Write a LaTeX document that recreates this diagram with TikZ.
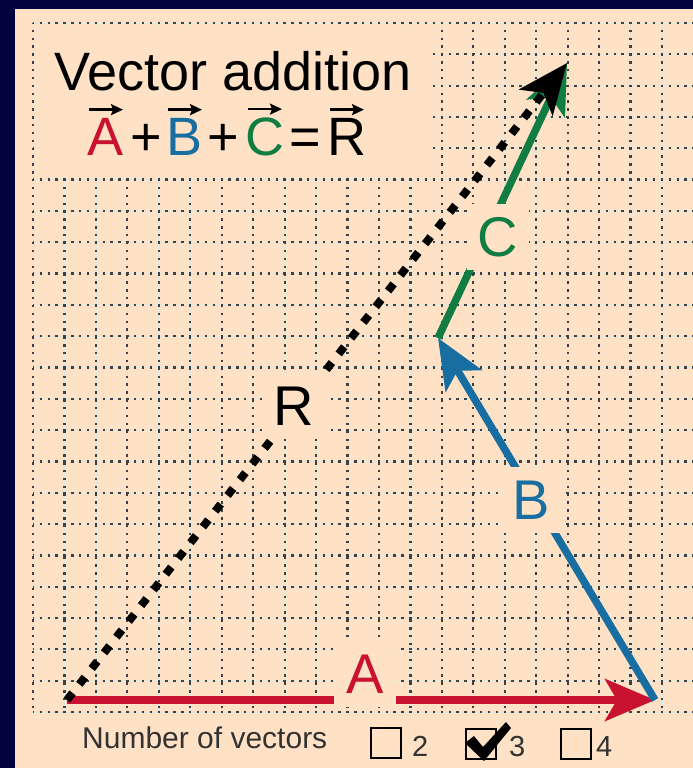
\documentclass[tikz,border=0pt]{standalone}
\usepackage{fontspec}
\setmainfont{Liberation Sans}
\usetikzlibrary{arrows.meta}
\definecolor{navy}{RGB}{2,2,62}
\definecolor{peach}{RGB}{255,226,198}
\definecolor{vred}{RGB}{200,18,48}
\definecolor{vblue}{RGB}{24,110,160}
\definecolor{vgreen}{RGB}{18,125,66}
\definecolor{griddot}{RGB}{60,64,68}
\definecolor{gridhalo}{RGB}{222,232,220}
\definecolor{txtgray}{RGB}{50,50,50}
\begin{document}
\begin{tikzpicture}[x=1pt,y=-1pt,
  halo/.style={gridhalo, line width=0.8pt},
  gridline/.style={griddot, line width=2.2pt, dash pattern=on 2.4pt off 5.4625pt, dash phase=1.2pt},
  vec/.style={line width=7.5pt, -{Stealth[length=50pt,width=42pt,inset=12pt]}},
  rvec/.style={black, line width=8pt, dash pattern=on 9pt off 11pt, -{Stealth[length=50pt,width=42pt,inset=12pt]}},
  vlabel/.style={fill=peach, inner sep=0pt, minimum width=62pt, minimum height=66pt, font=\fontsize{56}{60}\selectfont},
  tletter/.style={anchor=base, inner sep=0pt, font=\fontsize{54}{60}\selectfont},
  ovarrow/.style={black, line width=2.4pt, -{Stealth[length=12pt,width=11pt,inset=2pt]}},
  cbox/.style={draw=black, line width=1.5pt, minimum size=30pt, inner sep=0pt},
  digit/.style={anchor=base west, inner sep=0pt, text=txtgray, font=\fontsize{29}{34}\selectfont}
]
\useasboundingbox (0,0) rectangle (693,768);
\fill[navy] (0,0) rectangle (693,768);
\fill[peach] (15,9) rectangle (693,768);
% grid
\foreach \i in {0,...,20} {
  \draw[halo] (33+\i*31.45,23) -- (33+\i*31.45,712);
}
\foreach \j in {0,...,22} {
  \draw[halo] (33,23+\j*31.318) -- (693,23+\j*31.318);
}
\foreach \i in {0,...,20} {
  \draw[gridline] (33+\i*31.45,23) -- (33+\i*31.45,712);
}
\foreach \j in {0,...,22} {
  \draw[gridline] (33,23+\j*31.318) -- (693,23+\j*31.318);
}
% title area
\fill[peach] (36,26) rectangle (432,177);
\node[anchor=base west, inner sep=0pt, font=\fontsize{54}{60}\selectfont] (title) at (54,90) {Vector addition};
\node[tletter, text=vred] (ta) at (106,155) {A};
\node[tletter] (tp1) at (146,155) {+};
\node[tletter, text=vblue] (tb) at (185,155) {B};
\node[tletter] (tp2) at (223,155) {+};
\node[tletter, text=vgreen] (tc) at (265,155) {C};
\node[tletter] (teq) at (305,155) {=};
\node[tletter] (tr) at (347,155) {R};
\foreach \n in {ta,tb,tc,tr} {
  \draw[ovarrow] ([shift={(-17,-8)}]\n.north) -- ([shift={(17,-8)}]\n.north);
}
% vectors
\coordinate (O) at (67,700);
\coordinate (P) at (655,700);
\coordinate (Q) at (438,338);
\coordinate (T) at (567,63);
\draw[vec, vred] (O) -- (P);
\draw[vec, vblue] (P) -- (Q);
\draw[vec, vgreen] (Q) -- (T);
\draw[rvec] (O) -- (T);
\node[vlabel, text=vred] (lA) at (365,674) {A};
\node[vlabel, text=vblue] (lB) at (531,500) {B};
\node[vlabel, text=vgreen] (lC) at (498,237) {C};
\node[vlabel] (lR) at (294,406) {R};
% bottom controls
\node[anchor=base west, inner sep=0pt, text=txtgray, font=\fontsize{30}{36}\selectfont] (nv) at (82,748) {Number of vectors};
\node[cbox] (b2) at (386,743) {};
\node[cbox] (b3) at (481,744) {};
\node[cbox] (b4) at (576,744) {};
\node[digit] (d2) at (412,756) {2};
\node[digit] (d3) at (509,756) {3};
\node[digit] (d4) at (596,756) {4};
\fill[black] (465,743) -- (474,736) -- (483,747) -- (506,722) -- (511,728) -- (484,761) -- cycle;
\end{tikzpicture}
\end{document}
